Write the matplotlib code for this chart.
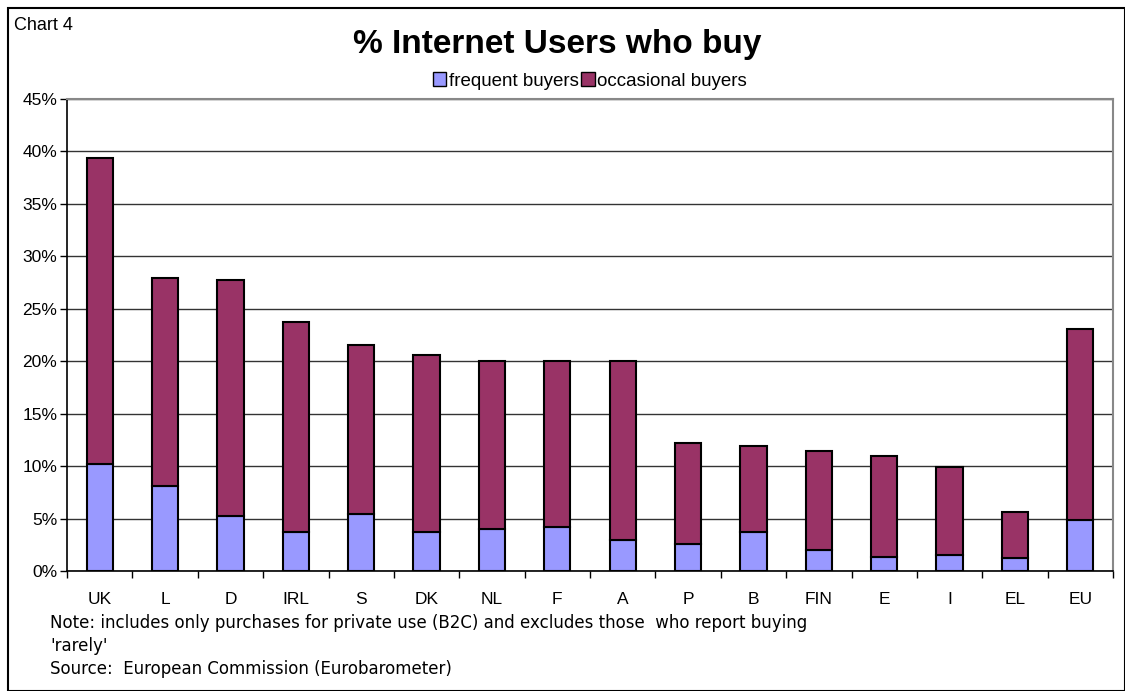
import matplotlib.pyplot as plt
import numpy as np
from matplotlib.patches import Rectangle

countries = ["UK", "L", "D", "IRL", "S", "DK", "NL", "F", "A", "P", "B", "FIN", "E", "I", "EL", "EU"]
total = [39.4, 27.9, 27.7, 23.7, 21.5, 20.6, 20.0, 20.0, 20.0, 12.2, 11.9, 11.4, 11.0, 9.9, 5.6, 23.1]
frequent = [10.2, 8.1, 5.2, 3.7, 5.4, 3.7, 4.0, 4.2, 3.0, 2.6, 3.7, 2.0, 1.3, 1.5, 1.2, 4.9]
occasional = [t - f for t, f in zip(total, frequent)]

FREQ_COLOR = "#9999ff"
OCC_COLOR = "#993366"
SANS = "Liberation Sans"

fig = plt.figure(figsize=(11.25, 6.91), dpi=100, facecolor="white")
ax = fig.add_axes([67 / 1125, 1 - 571 / 691, (1113 - 67) / 1125, (571 - 99) / 691])

x = np.arange(len(countries))
ax.bar(x, frequent, width=0.4, color=FREQ_COLOR, edgecolor="black", linewidth=1.5, zorder=3)
ax.bar(x, occasional, bottom=frequent, width=0.4, color=OCC_COLOR, edgecolor="black", linewidth=1.5, zorder=3)

ax.set_xlim(-0.5, len(countries) - 0.5)
ax.set_ylim(0, 45)
ax.set_yticks(np.arange(0, 46, 5))
ax.set_yticklabels([f"{v}%" for v in range(0, 46, 5)], fontfamily=SANS, fontsize=12.5)
ax.yaxis.grid(True, color="#333333", linewidth=1)
ax.set_axisbelow(True)

ax.set_xticks(x)
ax.set_xticklabels(countries, fontfamily=SANS, fontsize=12.5)
ax.set_xticks(np.arange(-0.5, len(countries), 1), minor=True)
ax.tick_params(axis="x", which="major", length=0, pad=15)
ax.tick_params(axis="x", which="minor", length=5, direction="out", width=1)
ax.tick_params(axis="y", length=5, direction="out", width=1, pad=2)

for side in ["top", "right"]:
    ax.spines[side].set_color("#888888")
    ax.spines[side].set_linewidth(1.5)
for side in ["left", "bottom"]:
    ax.spines[side].set_color("black")
    ax.spines[side].set_linewidth(1.2)

fig.patches.append(Rectangle((8 / 1125, 0), 1 - 8 / 1125, 1 - 8 / 691, transform=fig.transFigure,
                             fill=False, edgecolor="black", linewidth=1.5))

fig.text(14 / 1125, 1 - 25 / 691, "Chart 4", fontfamily=SANS, fontsize=13, va="center", ha="left")
fig.text(557 / 1125, 1 - 44 / 691, "% Internet Users who buy", fontfamily=SANS, fontsize=24,
         fontweight="bold", va="center", ha="center")

handles = [Rectangle((0, 0), 1, 1, facecolor=FREQ_COLOR, edgecolor="black"),
           Rectangle((0, 0), 1, 1, facecolor=OCC_COLOR, edgecolor="black")]
fig.legend(handles, ["frequent buyers", "occasional buyers"], loc="center",
           bbox_to_anchor=(590 / 1125, 1 - 81 / 691), ncol=2, frameon=False,
           prop={"family": SANS, "size": 13.5}, handlelength=0.7, handleheight=0.7,
           handletextpad=0.15, columnspacing=0.15, borderaxespad=0)

notes = ["Note: includes only purchases for private use (B2C) and excludes those  who report buying",
         "'rarely'",
         "Source:  European Commission (Eurobarometer)"]
for ypix, line in zip([623, 646, 669], notes):
    fig.text(50 / 1125, 1 - ypix / 691, line, fontfamily="DejaVu Sans", fontsize=12, va="center", ha="left")

fig.savefig("out.png", dpi=100, facecolor="white")
plt.close(fig)
